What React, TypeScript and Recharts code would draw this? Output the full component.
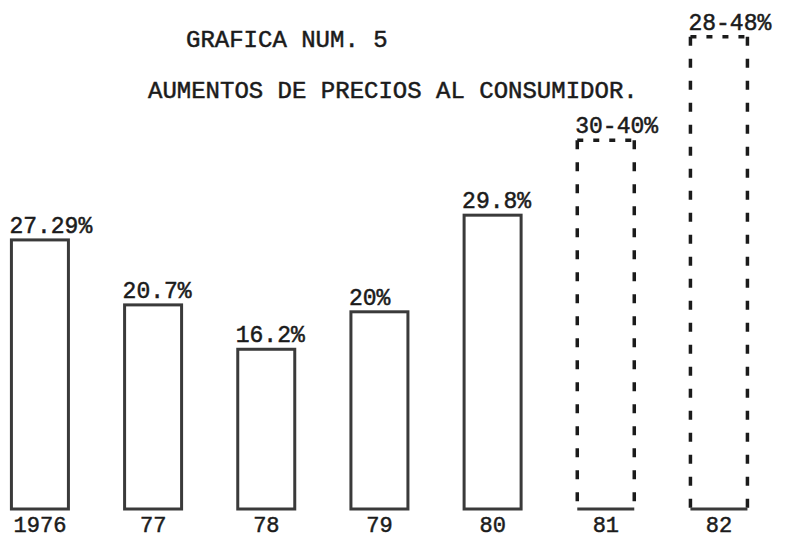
import { Bar, BarChart, LabelList, XAxis, YAxis } from "recharts";

const years = ["1976", "77", "78", "79", "80", "81", "82"];
// bar heights in % (81 and 82 are projections)
const increases = [27.29, 20.7, 16.2, 20, 29.8, 37.4, 47.9];
const valueLabels = ["27.29%", "20.7%", "16.2%", "20%", "29.8%", "30-40%", "28-48%"];
const projected = [false, false, false, false, false, true, true];

const chartData = years.map((year, i) => ({
  idx: i,
  year,
  value: increases[i],
  label: valueLabels[i],
  projected: projected[i],
}));

const INK = "#1b1b1b";
const OUTLINE = "#3a3a3a";
const FONT = '"Liberation Mono", "DejaVu Sans Mono", monospace';

function BoxShape(props: any) {
  const { x, y, width, height, payload } = props;
  if (!payload.projected) {
    return (
      <rect
        x={x}
        y={y}
        width={width}
        height={height}
        fill="none"
        stroke={OUTLINE}
        strokeWidth={3}
      />
    );
  }
  return (
    <g stroke={INK} strokeWidth={3.5} fill="none">
      <line x1={x} y1={y} x2={x} y2={y + height} strokeDasharray="9 13" />
      <line x1={x + width} y1={y} x2={x + width} y2={y + height} strokeDasharray="9 13" />
      <line x1={x} y1={y} x2={x + width} y2={y} strokeDasharray="6 10" />
      <line x1={x} y1={y + height} x2={x + width} y2={y + height} stroke={OUTLINE} strokeWidth={3} />
    </g>
  );
}

function ValueLabel(props: any) {
  const { x, y, value } = props;
  return (
    <text
      x={x - 2}
      y={y - 7}
      fill={INK}
      stroke={INK}
      strokeWidth={0.5}
      fontFamily={FONT}
      fontSize={23}
      textAnchor="start"
    >
      {value}
    </text>
  );
}

const titleStyle = {
  position: "absolute" as const,
  fontFamily: FONT,
  fontSize: 24,
  color: INK,
  whiteSpace: "pre" as const,
  WebkitTextStroke: "0.5px #1b1b1b",
};

export default function App() {
  return (
    <div style={{ position: "absolute", left: 0, top: 0, width: 785, height: 538, background: "#fff" }}>
      <div style={{ ...titleStyle, left: 186, top: 27 }}>GRAFICA NUM. 5</div>
      <div style={{ ...titleStyle, left: 148, top: 78 }}>AUMENTOS DE PRECIOS AL CONSUMIDOR.</div>
      <BarChart
        width={785}
        height={538}
        data={chartData}
        margin={{ top: 16, right: 0, bottom: 0, left: 0 }}
      >
        <XAxis
          dataKey="idx"
          type="number"
          domain={[-0.3535, 6.583]}
          allowDataOverflow
          ticks={[0, 1, 2, 3, 4, 5, 6]}
          tickFormatter={(i) => years[i]}
          height={29}
          axisLine={false}
          tickLine={false}
          tickMargin={1}
          interval={0}
          tick={{ fill: INK, stroke: INK, strokeWidth: 0.5, fontFamily: FONT, fontSize: 22 }}
        />
        <YAxis hide domain={[0, 50]} />
        <Bar dataKey="value" barSize={57} shape={BoxShape} isAnimationActive={false}>
          <LabelList dataKey="label" content={ValueLabel} />
        </Bar>
      </BarChart>
    </div>
  );
}
